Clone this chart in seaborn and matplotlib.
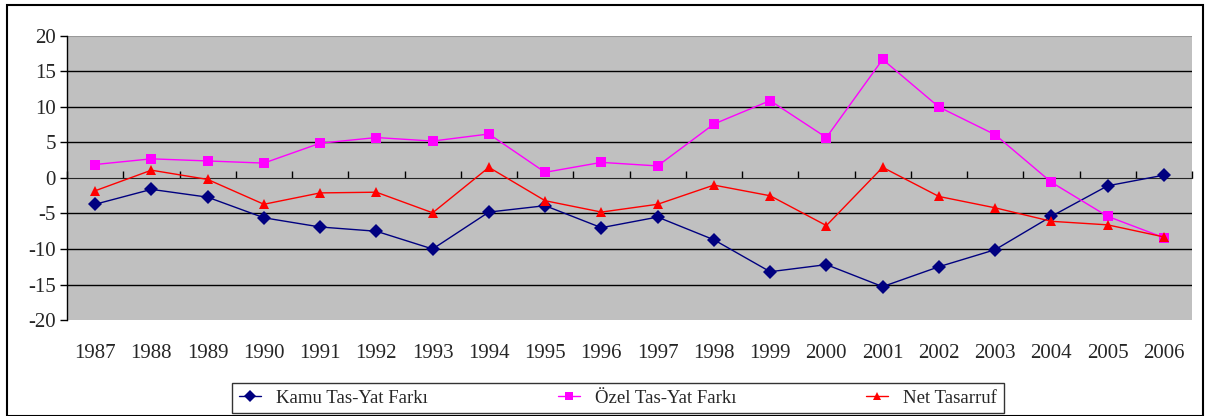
import numpy as np
import pandas as pd
import matplotlib
matplotlib.use("Agg")
import matplotlib.pyplot as plt
from matplotlib.patches import Rectangle
import seaborn as sns

years = [str(y) for y in range(1987, 2007)]
kamu = [-3.7, -1.6, -2.7, -5.6, -6.9, -7.5, -10.0, -4.8, -3.9, -7.0,
        -5.5, -8.7, -13.2, -12.2, -15.3, -12.5, -10.1, -5.4, -1.1, 0.4]
ozel = [1.9, 2.7, 2.4, 2.1, 4.9, 5.7, 5.2, 6.2, 0.8, 2.2,
        1.7, 7.6, 10.9, 5.7, 16.7, 10.0, 6.1, -0.6, -5.4, -8.4]
net = [-1.8, 1.1, -0.2, -3.7, -2.1, -2.0, -4.9, 1.5, -3.2, -4.8,
       -3.7, -1.0, -2.5, -6.7, 1.5, -2.6, -4.2, -6.1, -6.6, -8.3]
series_names = ["Kamu Tas-Yat Farkı", "Özel Tas-Yat Farkı", "Net Tasarruf"]

df = pd.DataFrame({"year": years * 3,
                   "value": kamu + ozel + net,
                   "series": np.repeat(series_names, len(years))})
df["pos"] = df.groupby("series").cumcount()

sns.set_style("white")
plt.rcParams["font.family"] = ["Liberation Serif", "DejaVu Serif"]

fig = plt.figure(figsize=(12.17, 4.16), dpi=100)
ax = fig.add_axes([67/1217, 96/416, 1125/1217, 284/416])
ax.set_facecolor("#C0C0C0")

palette = {"Kamu Tas-Yat Farkı": "#000080", "Özel Tas-Yat Farkı": "#FF00FF",
           "Net Tasarruf": "#FF0000"}
markers = {"Kamu Tas-Yat Farkı": "D", "Özel Tas-Yat Farkı": "s", "Net Tasarruf": "^"}

sns.lineplot(data=df, x="pos", y="value", hue="series", style="series",
             palette=palette, markers=markers, dashes=False, markersize=7.5,
             markeredgewidth=0, linewidth=1, ax=ax, legend=False, zorder=3)

for y in range(-15, 20, 5):
    if y != 0:
        ax.axhline(y, color="black", lw=1, zorder=1)
ax.axhline(20, color="#999999", lw=1.5, zorder=1)

ax.set_xlim(-0.5, len(years) - 0.5)
ax.set_ylim(-20, 20)
ax.set_yticks(range(-20, 21, 5))
ax.set_yticklabels([str(v) for v in range(-20, 21, 5)], fontsize=15)
ax.set_xticks(range(len(years)))
ax.set_xticklabels(years, fontsize=15)
ax.tick_params(axis="x", length=0, pad=17)
ax.tick_params(axis="y", direction="out", length=5, width=1, color="black", left=True, pad=3)
ax.set_xlabel("")
ax.set_ylabel("")
for s in ["top", "right", "bottom"]:
    ax.spines[s].set_visible(False)
ax.spines["left"].set_color("black")
ax.spines["left"].set_linewidth(1)

sec = ax.secondary_xaxis(0.5)
sec.set_xticks(np.arange(-0.5, len(years), 1.0))
sec.set_xticklabels([])
sec.tick_params(direction="out", length=5, width=1, color="black")
sec.spines["bottom"].set_color("black")
sec.spines["bottom"].set_linewidth(1)

handles = [plt.Line2D([], [], color=palette[n], marker=markers[n], markersize=6,
                      markeredgewidth=0, lw=1) for n in series_names]
leg = fig.legend(handles, series_names, loc="center", ncol=3,
                 bbox_to_anchor=(618/1217, 1 - 398/416), fontsize=13.5,
                 frameon=True, fancybox=False, edgecolor="black",
                 handlelength=1.2, columnspacing=6.9, borderpad=0.35,
                 borderaxespad=0, handletextpad=0.8)
leg.get_frame().set_linewidth(1)

fig.patches.append(Rectangle((7/1217, 0), 1196/1217, 411/416, transform=fig.transFigure,
                             fill=False, edgecolor="black", lw=1.5))

fig.savefig("out.png", dpi=100)
